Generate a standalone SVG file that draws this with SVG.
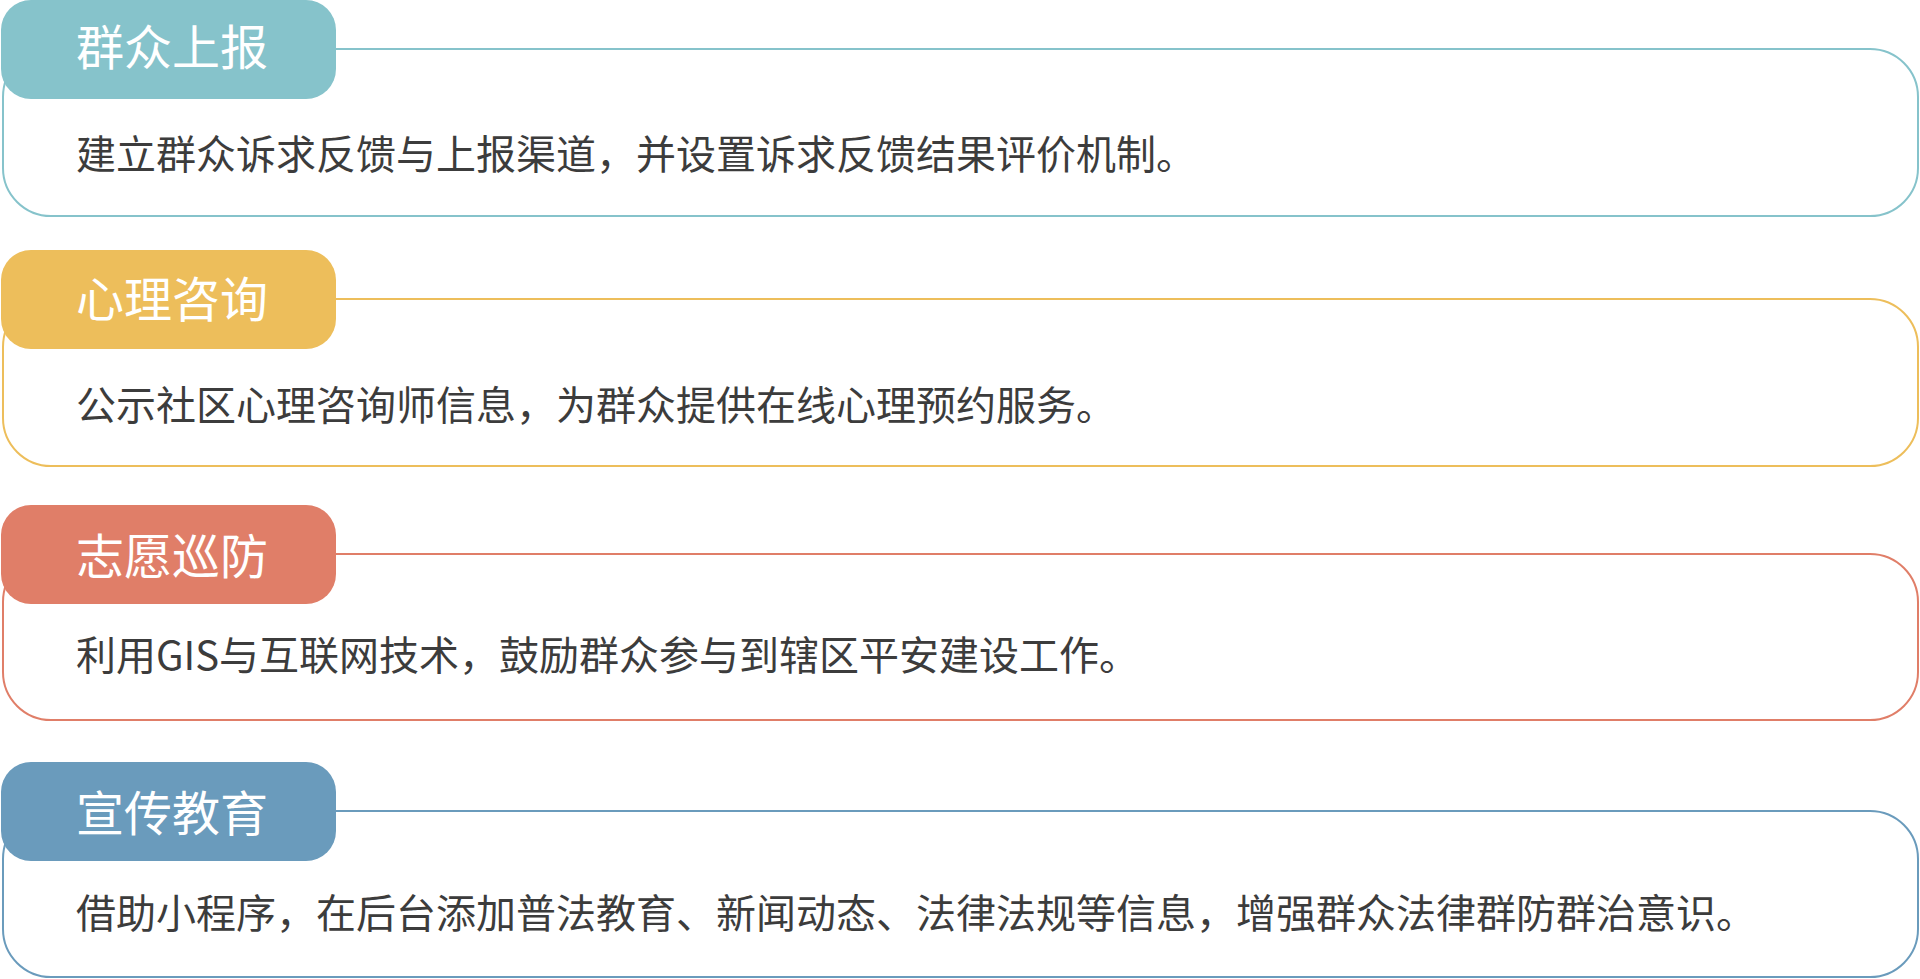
<svg xmlns="http://www.w3.org/2000/svg" width="1920" height="979" viewBox="0 0 1920 979">
<style>
.box{fill:#ffffff;stroke-width:2}
.title{font-family:"Noto Sans CJK SC","Noto Sans",sans-serif;font-size:48px;fill:#ffffff}
.body{font-family:"Noto Sans CJK SC","Noto Sans",sans-serif;font-size:40px;fill:#3c3c3c}
</style>
<rect width="1920" height="979" fill="#ffffff"/>
<g id="node-1">
<rect class="box" x="3" y="49" width="1915" height="167" rx="48" ry="48" stroke="#86c3cb"/>
<rect x="1" y="0" width="335" height="99" rx="30" ry="30" fill="#86c3cb"/>
<text class="title" x="76" y="65">群众上报</text>
<text class="body" x="76" y="169">建立群众诉求反馈与上报渠道，并设置诉求反馈结果评价机制。</text>
</g>
<g id="node-2">
<rect class="box" x="3" y="299" width="1915" height="167" rx="48" ry="48" stroke="#edbe5b"/>
<rect x="1" y="250" width="335" height="99" rx="30" ry="30" fill="#edbe5b"/>
<text class="title" x="76" y="317">心理咨询</text>
<text class="body" x="76" y="420">公示社区心理咨询师信息，为群众提供在线心理预约服务。</text>
</g>
<g id="node-3">
<rect class="box" x="3" y="554" width="1915" height="166" rx="48" ry="48" stroke="#e07e68"/>
<rect x="1" y="505" width="335" height="99" rx="30" ry="30" fill="#e07e68"/>
<text class="title" x="76" y="574">志愿巡防</text>
<text class="body" x="76" y="670">利用GIS与互联网技术，鼓励群众参与到辖区平安建设工作。</text>
</g>
<g id="node-4">
<rect class="box" x="3" y="811" width="1915" height="166" rx="48" ry="48" stroke="#6a9bbc"/>
<rect x="1" y="762" width="335" height="99" rx="30" ry="30" fill="#6a9bbc"/>
<text class="title" x="76" y="831">宣传教育</text>
<text class="body" x="76" y="928">借助小程序，在后台添加普法教育、新闻动态、法律法规等信息，增强群众法律群防群治意识。</text>
</g>
<g id="connectors"></g>
</svg>
